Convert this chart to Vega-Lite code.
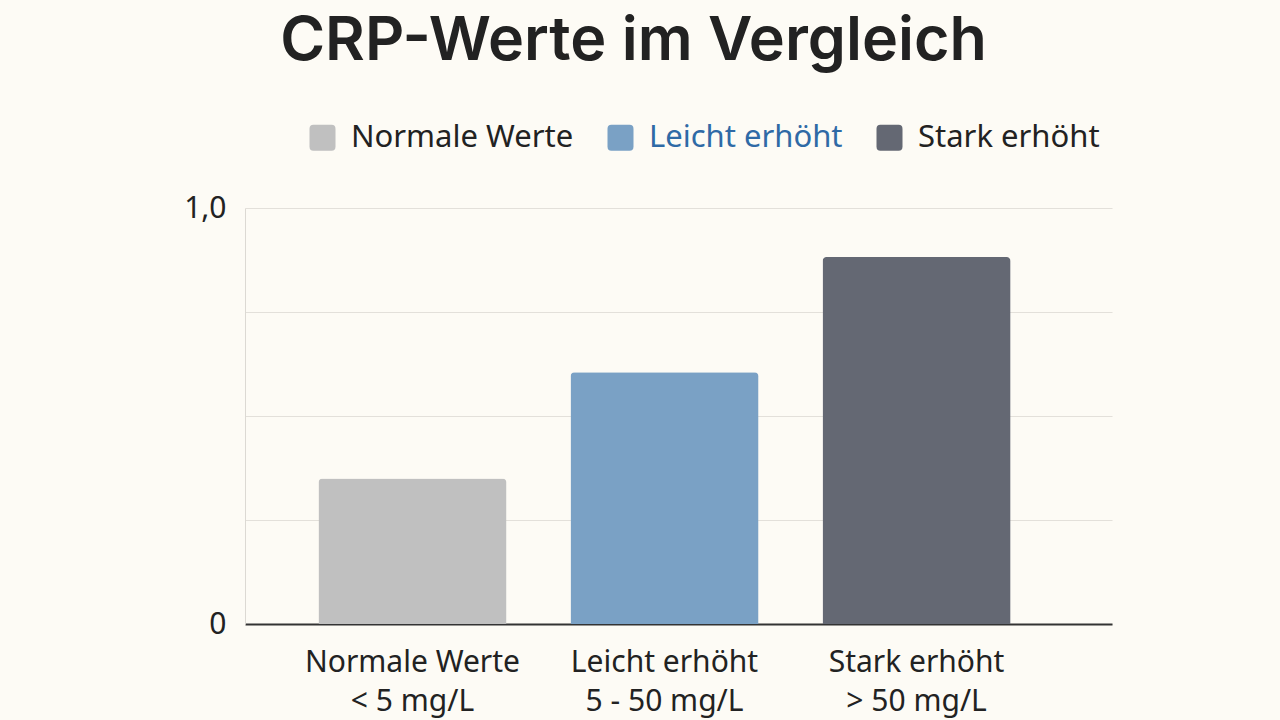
{
  "$schema": "https://vega.github.io/schema/vega-lite/v6.json",
  "autosize": "none",
  "width": 867,
  "height": 416,
  "padding": {"left": 245, "top": 208, "right": 168, "bottom": 96},
  "background": "#fdfbf5",
  "title": {
    "text": "CRP-Werte im Vergleich",
    "font": "Inter",
    "fontSize": 61,
    "fontWeight": 600,
    "color": "#222222",
    "anchor": "middle",
    "dx": -45,
    "offset": 49
  },
  "data": {
    "values": [
      {"kategorie": "Normale Werte", "wert": 0.35},
      {"kategorie": "Leicht erhöht", "wert": 0.605},
      {"kategorie": "Stark erhöht", "wert": 0.882}
    ]
  },
  "mark": {"type": "bar", "cornerRadiusTopLeft": 4, "cornerRadiusTopRight": 4},
  "encoding": {
    "x": {
      "field": "kategorie",
      "type": "nominal",
      "sort": ["Normale Werte", "Leicht erhöht", "Stark erhöht"],
      "scale": {"paddingInner": 0.254, "paddingOuter": 0.347, "align": 0.42},
      "axis": {
        "title": null,
        "labelAngle": 0,
        "labelFont": "Noto Sans",
        "labelFontSize": 30,
        "labelColor": "#222222",
        "labelBaseline": "top",
        "labelPadding": 23,
        "labelLineHeight": 39,
        "labelLimit": 400,
        "ticks": false,
        "domainColor": "#333333",
        "domainWidth": 2,
        "labelExpr": "datum.label == 'Normale Werte' ? ['Normale Werte', '< 5 mg/L'] : datum.label == 'Leicht erhöht' ? ['Leicht erhöht', '5 - 50 mg/L'] : ['Stark erhöht', '> 50 mg/L']"
      }
    },
    "y": {
      "field": "wert",
      "type": "quantitative",
      "scale": {"domain": [0, 1], "nice": false},
      "axis": {
        "title": null,
        "values": [0, 0.25, 0.5, 0.75, 1],
        "labelExpr": "datum.value == 1 ? '1,0' : datum.value == 0 ? '0' : ''",
        "labelFont": "Noto Sans",
        "labelFontSize": 30,
        "labelColor": "#222222",
        "labelPadding": 19,
        "ticks": false,
        "domainColor": "#dcd9d3",
        "gridColor": "#e3e0da",
        "gridWidth": 1.2
      }
    },
    "color": {
      "field": "kategorie",
      "type": "nominal",
      "scale": {
        "domain": ["Normale Werte", "Leicht erhöht", "Stark erhöht"],
        "range": ["#c0c0c0", "#7aa1c5", "#646873"]
      },
      "legend": {
        "title": null,
        "orient": "none",
        "direction": "horizontal",
        "legendX": 62,
        "legendY": -86,
        "symbolType": "M -1 -0.7 Q -1 -1 -0.7 -1 L 0.7 -1 Q 1 -1 1 -0.7 L 1 0.7 Q 1 1 0.7 1 L -0.7 1 Q -1 1 -1 0.7 Z",
        "symbolSize": 676,
        "symbolStrokeWidth": 0,
        "labelFont": "Noto Sans",
        "labelFontSize": 31,
        "labelOffset": 13,
        "columnPadding": 31,
        "labelLimit": 400,
        "encode": {
          "labels": {
            "update": {
              "fill": {"signal": "datum.label == 'Leicht erhöht' ? '#2f6aa6' : '#222222'"}
            }
          }
        }
      }
    }
  },
  "config": {
    "view": {"stroke": null},
    "axis": {"gridColor": "#e3e0da"}
  }
}
